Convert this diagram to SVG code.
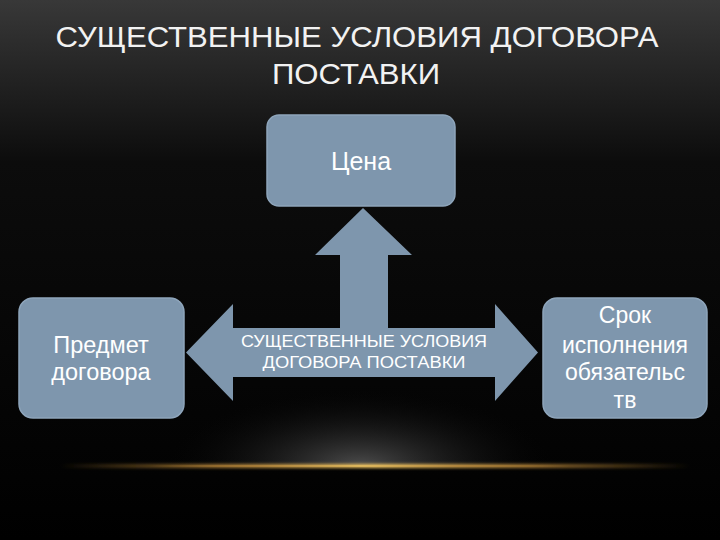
<svg xmlns="http://www.w3.org/2000/svg" width="720" height="540" viewBox="0 0 720 540">
<defs>
<linearGradient id="bg" x1="0" y1="0" x2="0" y2="1">
<stop offset="0" stop-color="#383838"/>
<stop offset="0.3" stop-color="#0c0c0c"/>
<stop offset="1" stop-color="#000"/>
</linearGradient>
<radialGradient id="glow" cx="360" cy="466" r="200" gradientUnits="userSpaceOnUse" gradientTransform="translate(0,466) scale(1,0.4) translate(0,-466)">
<stop offset="0" stop-color="#5a5a5a" stop-opacity="0.85"/>
<stop offset="1" stop-color="#000" stop-opacity="0"/>
</radialGradient>
<linearGradient id="line" x1="0" y1="0" x2="1" y2="0">
<stop offset="0" stop-color="#c08a30" stop-opacity="0"/>
<stop offset="0.25" stop-color="#b8863a" stop-opacity="0.8"/>
<stop offset="0.5" stop-color="#e8c060"/>
<stop offset="0.75" stop-color="#b8863a" stop-opacity="0.8"/>
<stop offset="1" stop-color="#c08a30" stop-opacity="0"/>
</linearGradient>
<filter id="blur" x="-10%" y="-200%" width="120%" height="500%"><feGaussianBlur stdDeviation="1.5"/></filter>
</defs>
<style>
.box{fill:#7e96ad;stroke:#8ea5bb;stroke-width:1.5}
.arrow{fill:#7e96ad}
.t{font-family:"Liberation Sans",Arial,sans-serif;fill:#fff;text-anchor:middle}
.h{font-family:"Liberation Sans",Arial,sans-serif;fill:#f2f2f2;text-anchor:middle}
</style>
<rect width="720" height="540" fill="url(#bg)"/>
<rect x="100" y="380" width="520" height="86" fill="url(#glow)"/>
<rect x="60" y="464" width="630" height="4" fill="url(#line)" filter="url(#blur)"/>
<rect x="150" y="465.3" width="420" height="1.4" fill="url(#line)"/>
<g id="title">
<text class="h" x="357" y="47" font-size="30" textLength="603" lengthAdjust="spacingAndGlyphs">СУЩЕСТВЕННЫЕ УСЛОВИЯ ДОГОВОРА</text>
<text class="h" x="356" y="84" font-size="30" textLength="168" lengthAdjust="spacingAndGlyphs">ПОСТАВКИ</text>
</g>
<g id="connectors">
<path class="arrow" d="M363,208 L412,255 L388,255 L388,328 L495,328 L495,304 L538,352.5 L495,401 L495,377 L233,377 L233,401 L186,352.5 L233,304 L233,328 L340,328 L340,255 L315,255 Z"/>
<text class="t" x="364" y="347" font-size="16" textLength="246" lengthAdjust="spacingAndGlyphs">СУЩЕСТВЕННЫЕ УСЛОВИЯ</text>
<text class="t" x="364" y="368" font-size="16" textLength="203" lengthAdjust="spacingAndGlyphs">ДОГОВОРА ПОСТАВКИ</text>
</g>
<g id="node-price">
<rect class="box" x="267" y="115" width="188" height="91" rx="12"/>
<text class="t" x="361" y="170" font-size="25">Цена</text>
</g>
<g id="node-subject">
<rect class="box" x="19" y="298" width="165" height="120" rx="14"/>
<text class="t" x="101" y="353" font-size="23.5">Предмет</text>
<text class="t" x="101" y="380" font-size="23.5">договора</text>
</g>
<g id="node-term">
<rect class="box" x="543" y="298" width="164" height="120" rx="14"/>
<text class="t" x="625" y="323" font-size="23">Срок</text>
<text class="t" x="625" y="353" font-size="23">исполнения</text>
<text class="t" x="625" y="380" font-size="23">обязательс</text>
<text class="t" x="625" y="408" font-size="23">тв</text>
</g>
</svg>
